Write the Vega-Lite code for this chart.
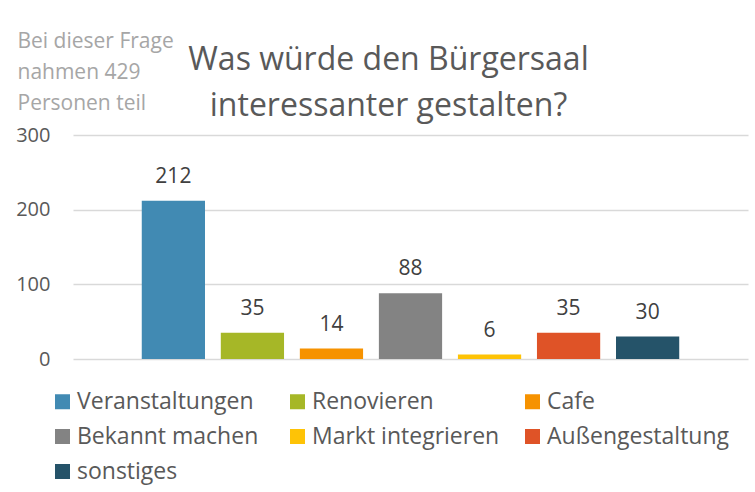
{
  "$schema": "https://vega.github.io/schema/vega-lite/v6.json",
  "width": 675,
  "height": 224,
  "autosize": {"type": "none"},
  "padding": {"left": 73, "top": 135, "right": 7, "bottom": 133},
  "background": "white",
  "config": {"view": {"stroke": null}, "font": "Open Sans"},
  "title": {
    "text": ["Was würde den Bürgersaal", "interessanter gestalten?"],
    "font": "Open Sans",
    "fontSize": 32,
    "fontWeight": "normal",
    "color": "#595959",
    "anchor": "middle",
    "frame": "group",
    "dx": -22,
    "lineHeight": 46,
    "baseline": "bottom",
    "offset": -125
  },
  "data": {
    "values": [
      {"kategorie": "Veranstaltungen", "wert": 212},
      {"kategorie": "Renovieren", "wert": 35},
      {"kategorie": "Cafe", "wert": 14},
      {"kategorie": "Bekannt machen", "wert": 88},
      {"kategorie": "Markt integrieren", "wert": 6},
      {"kategorie": "Außengestaltung", "wert": 35},
      {"kategorie": "sonstiges", "wert": 30}
    ]
  },
  "encoding": {
    "x": {
      "field": "kategorie",
      "type": "nominal",
      "sort": null,
      "axis": null,
      "scale": {"paddingInner": 0.2, "paddingOuter": 0.87}
    },
    "y": {
      "field": "wert",
      "type": "quantitative",
      "scale": {"domain": [0, 300], "nice": false},
      "axis": {
        "values": [0, 100, 200, 300],
        "grid": true,
        "gridColor": "#d9d9d9",
        "gridWidth": 1.5,
        "domain": false,
        "ticks": false,
        "labelFont": "Open Sans",
        "labelFontSize": 20,
        "labelColor": "#595959",
        "labelPadding": 23,
        "title": ["Bei dieser Frage", "nahmen 429", "Personen teil"],
        "titleAngle": 0,
        "titleAlign": "left",
        "titleBaseline": "alphabetic",
        "titleX": -56,
        "titleY": -88,
        "titleFont": "Open Sans",
        "titleFontSize": 21,
        "titleFontWeight": "normal",
        "titleColor": "#a6a6a6",
        "titleLineHeight": 31
      }
    }
  },
  "layer": [
    {
      "mark": {"type": "bar"},
      "encoding": {
        "color": {
          "field": "kategorie",
          "type": "nominal",
          "sort": null,
          "scale": {
            "domain": ["Veranstaltungen", "Renovieren", "Cafe", "Bekannt machen", "Markt integrieren", "Außengestaltung", "sonstiges"],
            "range": ["#418ab3", "#a6b727", "#f69200", "#838383", "#fec306", "#df5327", "#255369"]
          },
          "legend": {
            "orient": "none",
            "legendX": -22,
            "legendY": 255,
            "direction": "horizontal",
            "columns": 3,
            "gridAlign": "all",
            "columnPadding": 21,
            "rowPadding": 11,
            "symbolType": "square",
            "symbolSize": 225,
            "symbolStrokeWidth": 0,
            "symbolOpacity": 1,
            "labelFont": "Open Sans",
            "labelFontSize": 23,
            "labelColor": "#595959",
            "labelOffset": 3,
            "labelLimit": 300,
            "title": null
          }
        }
      }
    },
    {
      "mark": {
        "type": "text",
        "baseline": "alphabetic",
        "dy": -18,
        "font": "Open Sans",
        "fontSize": 21,
        "color": "#404040"
      },
      "encoding": {"text": {"field": "wert", "type": "quantitative"}}
    }
  ]
}
